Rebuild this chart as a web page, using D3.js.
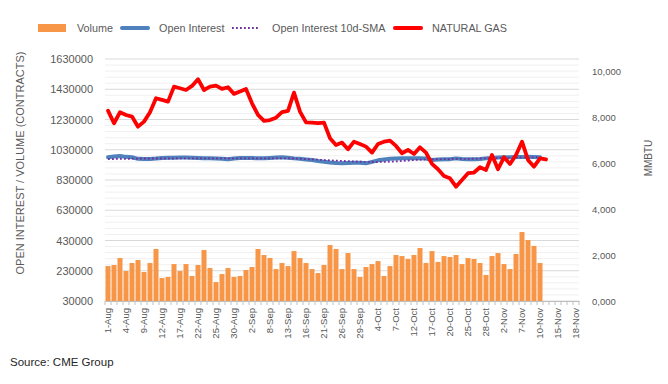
<!DOCTYPE html>
<html lang="en">
<head>
    <meta charset="UTF-8">
    <title>Natural gas - volume and open interest</title>
    <script src="https://d3js.org/d3.v7.min.js"></script>
    <style>
        body { margin: 0; background: #fff; }
        text { font-family: "Liberation Sans", Arial, sans-serif; fill: #595959; }
    </style>
</head>
<body>
<div id="chart"></div>
<script>
    // trading days, 1-Aug to 18-Nov
    const dates = [
        "1-Aug","2-Aug","3-Aug","4-Aug","5-Aug","8-Aug","9-Aug","10-Aug","11-Aug","12-Aug",
        "15-Aug","16-Aug","17-Aug","18-Aug","19-Aug","22-Aug","23-Aug","24-Aug","25-Aug","26-Aug",
        "29-Aug","30-Aug","31-Aug",
        "1-Sep","2-Sep","6-Sep","7-Sep","8-Sep","9-Sep","12-Sep","13-Sep","14-Sep","15-Sep",
        "16-Sep","19-Sep","20-Sep","21-Sep","22-Sep","23-Sep","26-Sep","27-Sep","28-Sep","29-Sep","30-Sep",
        "3-Oct","4-Oct","5-Oct","6-Oct","7-Oct","10-Oct","11-Oct","12-Oct","13-Oct","14-Oct",
        "17-Oct","18-Oct","19-Oct","20-Oct","21-Oct","24-Oct","25-Oct","26-Oct","27-Oct","28-Oct","31-Oct",
        "1-Nov","2-Nov","3-Nov","4-Nov","7-Nov","8-Nov","9-Nov","10-Nov","11-Nov",
        "14-Nov","15-Nov","16-Nov","17-Nov","18-Nov"
    ];

    const volume = [
        261000,268000,314000,228000,281000,301000,222000,281000,374000,182000,
        189000,274000,228000,274000,195000,268000,367000,248000,155000,208000,
        248000,189000,195000,235000,255000,374000,334000,314000,241000,281000,
        261000,360000,314000,281000,241000,215000,268000,400000,374000,241000,
        347000,241000,189000,255000,274000,294000,195000,261000,334000,327000,
        308000,334000,380000,281000,360000,288000,327000,321000,334000,274000,
        314000,308000,281000,202000,327000,347000,274000,241000,341000,486000,
        433000,394000,281000
    ];

    const openInterest = [
        980000,985000,989000,983000,980000,970000,969000,969000,972000,976000,
        977000,977000,978000,978000,977000,976000,974000,973000,972000,971000,
        967000,972000,975000,975000,975000,973000,974000,976000,978000,980000,
        977000,973000,970000,966000,962000,955000,951000,946000,942000,940000,
        942000,944000,944000,940000,950000,960000,966000,970000,972000,973000,
        973000,974000,973000,972000,963000,965000,967000,968000,973000,969000,
        968000,968000,969000,973000,975000,978000,980000,981000,982000,982000,
        983000,982000,980000
    ];

    const oiSma10 = [
        968000,969000,970000,970000,971000,972000,972000,972000,972000,972000,
        972000,972000,973000,973000,973000,973000,973000,973000,973000,973000,
        973000,973000,973000,973000,973000,973000,973000,973000,973000,973000,
        973000,972000,970000,968000,966000,964000,962000,960000,958000,956000,
        955000,953000,951000,950000,949000,949000,950000,951000,953000,956000,
        959000,962000,964000,966000,967000,968000,968000,969000,970000,970000,
        970000,971000,972000,973000,974000,975000,976000,977000,978000,979000,
        980000,980000,981000
    ];

    const natGas = [
        8300,7750,8230,8110,8040,7600,7820,8230,8840,8765,
        8690,9345,9275,9200,9375,9670,9200,9345,9390,9245,
        9320,9030,9130,9245,8620,8110,7850,7890,7990,8230,
        8285,9085,8255,7790,7775,7750,7775,7095,6800,6905,
        6615,6945,6845,6730,6470,6845,6945,6990,6760,6440,
        6585,6410,6700,6470,5975,5745,5450,5350,4985,5275,
        5570,5600,5830,5715,6365,5745,6265,5975,6365,6945,
        6150,5855,6220,6170
    ];

    const leftTicks = d3.range(30000, 1630001, 200000);
    const rightTicks = [0, 2000, 4000, 6000, 8000, 10000];

    const width = 668, height = 384;
    const plot = {left: 105, right: 579, top: 59, bottom: 301};

    const svg = d3.select("#chart").append("svg")
        .attr("width", width)
        .attr("height", height);

    const x = d3.scaleBand().domain(dates).range([plot.left, plot.right]);
    const yL = d3.scaleLinear().domain([30000, 1630000]).range([plot.bottom, plot.top]);
    const yR = d3.scaleLinear().domain([0, 10550]).range([plot.bottom, plot.top]);
    const cx = d => x(d) + x.bandwidth() / 2;

    // gridlines: minor every 40000, major on labelled ticks
    const minor = d3.range(30000, 1630001, 40000).filter(v => !leftTicks.includes(v));
    svg.append("g").selectAll("line").data(minor).join("line")
        .attr("x1", plot.left).attr("x2", plot.right)
        .attr("y1", d => yL(d)).attr("y2", d => yL(d))
        .attr("stroke", "#f0f0f0").attr("stroke-width", 1);
    svg.append("g").selectAll("line").data(leftTicks).join("line")
        .attr("x1", plot.left).attr("x2", plot.right)
        .attr("y1", d => yL(d)).attr("y2", d => yL(d))
        .attr("stroke", "#d9d9d9").attr("stroke-width", 1);

    // volume bars
    svg.append("g").selectAll("rect").data(volume).join("rect")
        .attr("x", (d, i) => x(dates[i]) + 0.5)
        .attr("width", x.bandwidth() - 1)
        .attr("y", d => yL(d))
        .attr("height", d => yL(30000) - yL(d))
        .attr("fill", "#f79646");

    // x axis
    const xAxis = d3.axisBottom(x)
        .tickValues(dates.filter((d, i) => i % 3 === 0))
        .tickSize(0);
    const gx = svg.append("g")
        .attr("transform", `translate(0,${plot.bottom})`)
        .call(xAxis);
    gx.select(".domain").attr("stroke", "#bfbfbf");
    gx.selectAll("text")
        .attr("transform", "rotate(-90)")
        .attr("x", -7).attr("y", 0).attr("dy", "0.35em")
        .attr("text-anchor", "end")
        .style("font-size", "9.5px");
    svg.append("g").selectAll("line").data(dates.concat(["end"])).join("line")
        .attr("x1", (d, i) => plot.left + i * x.bandwidth())
        .attr("x2", (d, i) => plot.left + i * x.bandwidth())
        .attr("y1", plot.bottom).attr("y2", plot.bottom + 4)
        .attr("stroke", "#bfbfbf");

    // left axis
    const gl = svg.append("g")
        .attr("transform", `translate(${plot.left},0)`)
        .call(d3.axisLeft(yL).tickValues(leftTicks).tickFormat(d3.format("d")).tickSize(0).tickPadding(12));
    gl.select(".domain").remove();
    gl.selectAll("text").style("font-size", "11px");

    // right axis
    const gr = svg.append("g")
        .attr("transform", `translate(${plot.right},0)`)
        .call(d3.axisRight(yR).tickValues(rightTicks)
            .tickFormat(d => d === 0 ? "0,000" : d3.format(",")(d)).tickSize(0).tickPadding(13));
    gr.select(".domain").remove();
    gr.selectAll("text").style("font-size", "9.5px");

    // lines
    const lineL = d3.line().x((d, i) => cx(dates[i])).y(d => yL(d));
    const lineR = d3.line().x((d, i) => cx(dates[i])).y(d => yR(d));

    svg.append("path").datum(openInterest)
        .attr("d", lineL).attr("fill", "none")
        .attr("stroke", "#4f81bd").attr("stroke-width", 4)
        .attr("stroke-linejoin", "round").attr("stroke-linecap", "round");
    svg.append("path").datum(oiSma10)
        .attr("d", lineL).attr("fill", "none")
        .attr("stroke", "#7030a0").attr("stroke-width", 1.8)
        .attr("stroke-dasharray", "1.8,2.2");
    svg.append("path").datum(natGas)
        .attr("d", lineR).attr("fill", "none")
        .attr("stroke", "#ff0000").attr("stroke-width", 3.8)
        .attr("stroke-linejoin", "round").attr("stroke-linecap", "round");

    // axis titles
    svg.append("text")
        .attr("transform", "translate(20,163) rotate(-90)")
        .attr("text-anchor", "middle").attr("dy", "0.35em")
        .style("font-size", "11px")
        .text("OPEN INTEREST / VOLUME (CONTRACTS)");
    svg.append("text")
        .attr("transform", "translate(648,158) rotate(-90)")
        .attr("text-anchor", "middle").attr("dy", "0.35em")
        .style("font-size", "10px")
        .text("MMBTU");

    // legend
    const legend = svg.append("g").attr("transform", "translate(0,28)");
    legend.append("rect").attr("x", 38).attr("y", -4).attr("width", 28).attr("height", 8).attr("fill", "#f79646");
    legend.append("line").attr("x1", 122).attr("x2", 148).attr("stroke", "#4f81bd")
        .attr("stroke-width", 4).attr("stroke-linecap", "round");
    legend.append("line").attr("x1", 232).attr("x2", 260).attr("stroke", "#7030a0")
        .attr("stroke-width", 1.8).attr("stroke-dasharray", "1.8,2.2");
    legend.append("line").attr("x1", 395).attr("x2", 421).attr("stroke", "#ff0000")
        .attr("stroke-width", 4).attr("stroke-linecap", "round");
    const names = [["Volume", 77], ["Open Interest", 159], ["Open Interest 10d-SMA", 272], ["NATURAL GAS", 432]];
    legend.selectAll("text.lg").data(names).join("text")
        .attr("class", "lg")
        .attr("x", d => d[1]).attr("y", 0).attr("dy", "0.35em")
        .style("font-size", "10.8px")
        .text(d => d[0]);

    svg.append("text")
        .attr("x", 10).attr("y", 366)
        .style("font-size", "11.5px").style("fill", "#262626")
        .text("Source: CME Group");
</script>
</body>
</html>
